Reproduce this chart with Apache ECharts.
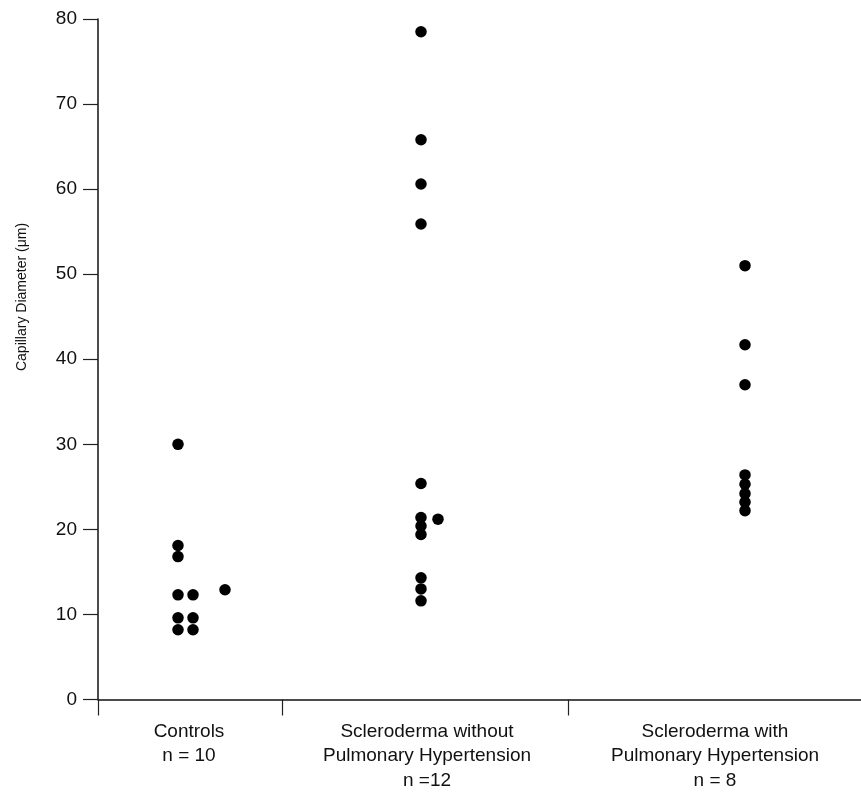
<!DOCTYPE html>
<html>
<head>
<meta charset="utf-8">
<script src="https://cdn.jsdelivr.net/npm/echarts@6/dist/echarts.min.js"></script>
<style>
  html, body { margin: 0; padding: 0; background: #fff; }
  #chart { width: 861px; height: 793px; }
</style>
</head>
<body>
<div id="chart"></div>
<script>
// group labels shown under the x axis
const groupLabels = [
  'Controls\nn = 10',
  'Scleroderma without\nPulmonary Hypertension\nn =12',
  'Scleroderma with\nPulmonary Hypertension\nn = 8'
]
// horizontal placement along the x axis (arbitrary units)
const groupTicks = [0, 184, 470]
const groupCenters = [91, 329, 617]
const yTicks = [0, 10, 20, 30, 40, 50, 60, 70, 80]

// capillary diameter (um), x is the jittered column of each dot
const controlsX = [80, 80, 80, 80, 95, 80, 95, 80, 95, 127]
const controlsY = [30, 18.1, 16.8, 12.3, 12.3, 9.6, 9.6, 8.2, 8.2, 12.9]
const withoutX = [323, 323, 323, 323, 323, 323, 323, 323, 323, 323, 323, 340]
const withoutY = [78.5, 65.8, 60.6, 55.9, 25.4, 21.4, 20.4, 19.4, 14.3, 13.0, 11.6, 21.2]
const withX = [647, 647, 647, 647, 647, 647, 647, 647]
const withY = [51.0, 41.7, 37.0, 26.4, 25.3, 24.2, 23.2, 22.2]

function pairs(xs, ys) {
  return xs.map((x, i) => [x, ys[i]])
}

const chart = echarts.init(document.getElementById('chart'))
const font = 'Liberation Sans, Arial, sans-serif'
chart.setOption({
  animation: false,
  backgroundColor: '#fff',
  grid: { left: 98, right: 0, top: 19, bottom: 90 },
  xAxis: {
    type: 'value',
    min: 0,
    max: 763,
    splitLine: { show: false },
    axisLine: { show: true, onZero: false, lineStyle: { color: '#111', width: 1.5 } },
    axisTick: {
      show: true,
      inside: false,
      length: 16,
      customValues: groupTicks,
      lineStyle: { color: '#222', width: 1.2 }
    },
    axisLabel: {
      customValues: groupCenters,
      formatter: function (v) {
        return groupLabels[groupCenters.indexOf(v)]
      },
      color: '#111',
      fontFamily: font,
      fontSize: 19,
      lineHeight: 24.5,
      margin: 20
    }
  },
  yAxis: {
    type: 'value',
    min: 0,
    max: 80,
    interval: 10,
    splitLine: { show: false },
    axisLine: { show: true, lineStyle: { color: '#111', width: 1.5 } },
    axisTick: { show: true, length: 15, lineStyle: { color: '#222', width: 1.2 } },
    axisLabel: {
      color: '#111',
      fontFamily: font,
      fontSize: 19,
      margin: 21,
      formatter: function (v) {
        return yTicks.indexOf(v) > -1 ? String(v) : ''
      }
    }
  },
  graphic: [
    {
      type: 'text',
      x: 22,
      y: 297,
      rotation: Math.PI / 2,
      style: {
        text: 'Capillary Diameter (μm)',
        fill: '#111',
        font: '14px ' + font,
        textAlign: 'center',
        textVerticalAlign: 'middle'
      }
    }
  ],
  series: [
    { name: 'Controls', type: 'scatter', data: pairs(controlsX, controlsY) },
    { name: 'Without PH', type: 'scatter', data: pairs(withoutX, withoutY) },
    { name: 'With PH', type: 'scatter', data: pairs(withX, withY) }
  ].map(s => Object.assign(s, {
    symbol: 'circle',
    symbolSize: 11.5,
    itemStyle: { color: '#000', opacity: 1 }
  }))
})
</script>
</body>
</html>
